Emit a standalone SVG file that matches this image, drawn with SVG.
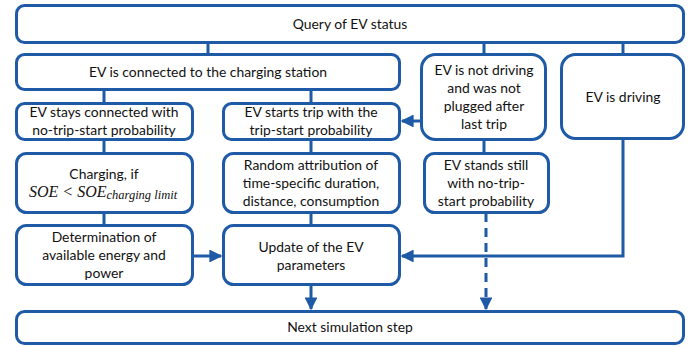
<svg xmlns="http://www.w3.org/2000/svg" width="694" height="347" viewBox="0 0 694 347">
<defs>
<style>
.box{fill:#fff;stroke:#1f5aa6;stroke-width:3}
.t{font-family:Lato,"Open Sans",sans-serif;font-size:13.9px;fill:#111;text-anchor:middle}
.c{fill:none;stroke:#1f5aa6;stroke-width:3}
.m{font-family:"Liberation Serif",serif;font-style:italic;fill:#111}
</style>
<marker id="ah" viewBox="0 0 10 10" refX="9" refY="5" markerWidth="4.3" markerHeight="4.3" orient="auto" markerUnits="strokeWidth">
<path d="M0,0 L10,5 L0,10 z" fill="#1f5aa6"/>
</marker>
</defs>
<rect width="694" height="347" fill="#fff"/>
<g id="connectors">
<line class="c" x1="208" y1="43" x2="208" y2="54"/>
<line class="c" x1="484" y1="43" x2="484" y2="54"/>
<line class="c" x1="623" y1="43" x2="623" y2="54"/>
<line class="c" x1="104" y1="90" x2="104" y2="103"/>
<line class="c" x1="311" y1="90" x2="311" y2="103"/>
<line class="c" x1="104" y1="140" x2="104" y2="153"/>
<line class="c" x1="311" y1="140" x2="311" y2="153"/>
<line class="c" x1="484" y1="140" x2="484" y2="153"/>
<line class="c" x1="104" y1="213" x2="104" y2="225"/>
<line class="c" x1="311" y1="213" x2="311" y2="225"/>
<line class="c" x1="421" y1="121" x2="402" y2="121" marker-end="url(#ah)"/>
<line class="c" x1="193" y1="256" x2="221" y2="256" marker-end="url(#ah)"/>
<polyline class="c" points="623,139 623,256 402,256" marker-end="url(#ah)"/>
<line class="c" x1="311" y1="285" x2="311" y2="309" marker-end="url(#ah)"/>
<line class="c" x1="486" y1="213" x2="486" y2="309" stroke-dasharray="9,6" marker-end="url(#ah)"/>
</g>
<g id="query"><rect class="box" x="16.5" y="5.5" width="667" height="37" rx="8"/><text class="t" x="350" y="29">Query of EV status</text></g>
<g id="connected"><rect class="box" x="16.5" y="54.5" width="383" height="35" rx="8"/><text class="t" x="208" y="77">EV is connected to the charging station</text></g>
<g id="notdriving"><rect class="box" x="421.5" y="54.5" width="124" height="85" rx="14"/>
<text class="t" x="484" y="75">EV is not driving</text><text class="t" x="484" y="93">and was not</text><text class="t" x="484" y="111">plugged after</text><text class="t" x="484" y="129">last trip</text></g>
<g id="driving"><rect class="box" x="561.5" y="54.5" width="122" height="84" rx="14"/><text class="t" x="623" y="102">EV is driving</text></g>
<g id="stays"><rect class="box" x="16.5" y="103.5" width="176" height="36" rx="8"/>
<text class="t" x="104" y="117">EV stays connected with</text><text class="t" x="104" y="135">no-trip-start probability</text></g>
<g id="starts"><rect class="box" x="223.5" y="103.5" width="176" height="36" rx="8"/>
<text class="t" x="311" y="117">EV starts trip with the</text><text class="t" x="311" y="135">trip-start probability</text></g>
<g id="charging"><rect class="box" x="16.5" y="153.5" width="176" height="59" rx="10"/>
<text class="t" x="104" y="179">Charging, if</text>
<text class="m" x="29" y="197" font-size="16">SOE &lt; SOE<tspan font-size="12.5" dy="2">charging limit</tspan></text></g>
<g id="random"><rect class="box" x="223.5" y="153.5" width="176" height="59" rx="10"/>
<text class="t" x="311" y="170">Random attribution of</text><text class="t" x="311" y="188">time-specific duration,</text><text class="t" x="311" y="206">distance, consumption</text></g>
<g id="standstill"><rect class="box" x="424.5" y="153.5" width="124" height="59" rx="10"/>
<text class="t" x="486" y="170">EV stands still</text><text class="t" x="486" y="188">with no-trip-</text><text class="t" x="486" y="206">start probability</text></g>
<g id="determination"><rect class="box" x="16.5" y="225.5" width="176" height="59" rx="10"/>
<text class="t" x="104" y="242">Determination of</text><text class="t" x="104" y="260">available energy and</text><text class="t" x="104" y="278">power</text></g>
<g id="update"><rect class="box" x="223.5" y="225.5" width="176" height="59" rx="10"/>
<text class="t" x="311" y="252">Update of the EV</text><text class="t" x="311" y="270">parameters</text></g>
<g id="next"><rect class="box" x="16.5" y="311.5" width="667" height="32" rx="8"/><text class="t" x="350" y="332">Next simulation step</text></g>
</svg>
